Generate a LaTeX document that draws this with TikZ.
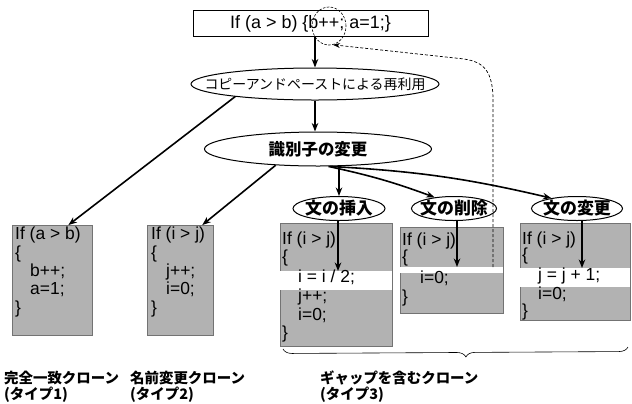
\documentclass[tikz,border=0pt]{standalone}
\usepackage{fontspec}
\setmainfont{Liberation Sans}
\newfontfamily\cjk{Noto Sans CJK JP}
\usetikzlibrary{shapes.geometric,arrows.meta,decorations.pathreplacing,calc}
\begin{document}
\begin{tikzpicture}[x=1bp,y=-1bp,
  arr/.style={-{Stealth[length=8.5bp,width=6.5bp]}, line width=1.6bp},
  oval/.style={ellipse, draw, line width=1bp, inner sep=0, fill=white},
  codebox/.style={draw=black!55, fill=black!30, line width=0.6bp, anchor=north west, inner sep=0},
  code/.style={anchor=west, inner sep=0, text height=0.72em, text depth=0.2em, font=\fontsize{17.5}{19}\selectfont},
  lab/.style={anchor=west, inner sep=0, font=\cjk\bfseries\fontsize{14.5}{16}\selectfont},
  ovtext/.style={font=\cjk\fontsize{#1}{#1}\selectfont},
  ovbold/.style={font=\cjk\bfseries\fontsize{#1}{#1}\selectfont}
]
\useasboundingbox (0,0) rectangle (632,403);

% top statement
\node[draw, line width=1bp, minimum width=235bp, minimum height=26bp, inner sep=0,
      font=\fontsize{18}{20}\selectfont] (top) at (310.5,23.5) {If (a > b) \{b++; a=1;\}};
\node[draw, dashed, dash pattern=on 2.5bp off 1.5bp, line width=0.6bp, ellipse, inner sep=0,
      minimum width=34bp, minimum height=38bp] (circ) at (329,26) {};

% ovals
\node[oval, minimum width=248bp, minimum height=32bp,
      label={[ovtext=14]center:コピーアンドペーストによる再利用}] (e1) at (315,84) {};
\node[oval, minimum width=227bp, minimum height=34bp,
      label={[ovbold=16.5]center:識別子の変更}] (e2) at (318,149) {};
\node[oval, minimum width=92bp, minimum height=24bp,
      label={[ovbold=17]center:文の挿入}] (ins) at (339,208.5) {};
\node[oval, minimum width=85bp, minimum height=24bp,
      label={[ovbold=17]center:文の削除}] (del) at (454,208.5) {};
\node[oval, minimum width=91bp, minimum height=24bp,
      label={[ovbold=17]center:文の変更}] (chg) at (577,208.5) {};

% code boxes
\node[codebox, minimum width=80bp, minimum height=110bp] (b1) at (12,225) {};
\node[codebox, minimum width=66bp, minimum height=110bp] (b2) at (147,225) {};
\node[codebox, minimum width=112bp, minimum height=123bp] (b3) at (280,223) {};
\node[codebox, minimum width=103bp, minimum height=86bp] (b4) at (400,227) {};
\node[codebox, minimum width=110bp, minimum height=97bp] (b5) at (520,223) {};

% white bands
\fill[white] (280.4,271) rectangle (391.6,290);
\fill[white] (400.4,267) rectangle (502.6,273);
\fill[white] (520.4,268) rectangle (629.6,287);

% code text
\node[code] (t1a) at (15,237) {If (a > b)};
\node[code] (t1b) at (15,256) {\{};
\node[code] (t1c) at (30,274) {b++;};
\node[code] (t1d) at (30,292) {a=1;};
\node[code] (t1e) at (15,311) {\}};

\node[code] (t2a) at (151,237) {If (i > j)};
\node[code] (t2b) at (151,256) {\{};
\node[code] (t2c) at (166,274) {j++;};
\node[code] (t2d) at (166,292) {i=0;};
\node[code] (t2e) at (151,311) {\}};

\node[code] (t3a) at (282,242) {If (i > j)};
\node[code] (t3b) at (282,260) {\{};
\node[code] (t3c) at (298,280) {i = i / 2;};
\node[code] (t3d) at (298,299) {j++;};
\node[code] (t3e) at (298,318) {i=0;};
\node[code] (t3f) at (282,336) {\}};

\node[code] (t4a) at (402,243) {If (i > j)};
\node[code] (t4b) at (402,260) {\{};
\node[code] (t4c) at (420,281) {i=0;};
\node[code] (t4d) at (402,300) {\}};

\node[code] (t5a) at (522,242) {If (i > j)};
\node[code] (t5b) at (522,258) {\{};
\node[code] (t5c) at (538,278) {j = j + 1;};
\node[code] (t5d) at (538,297) {i=0;};
\node[code] (t5e) at (522,314) {\}};

% arrows
\draw[arr] (top.south -| e1.north) -- (e1.north);
\draw[arr] (e1.south) -- (e1.south |- e2.north);
\draw[arr] (e1.189) -- ($(b1.north west)!0.7!(b1.north east)$);
\draw[arr] (e2.201) -- ($(b2.north west)!0.83!(b2.north east)$);
\draw[arr] (ins.north |- e2.south) -- (ins.north);
\draw[arr] (e2.-59) to[bend left=4] (del.150);
\draw[arr] (e2.-55) to[bend left=5] (chg.158);

\coordinate (g3) at (338,271);
\coordinate (g4) at (457,267);
\coordinate (g5) at (582,268);
\draw[arr] (g3 |- ins.south) -- (g3);
\draw[arr] (g4 |- del.south) -- (g4);
\draw[arr] (g5 |- chg.south) -- (g5);

% dashed return path
\coordinate (ds) at (493,267);
\coordinate (dk) at (493,100);
\coordinate (dm) at (455,58);
\draw[dash pattern=on 3bp off 2bp, line width=0.7bp, -{Stealth[length=7bp,width=5bp]}]
  (ds) -- (dk) .. controls (493,64) and (478,60) .. (dm) -- (circ.-78);

% brace
\coordinate (brL) at (283,349);
\coordinate (brR) at (628,347);
\draw[line width=0.6bp, decorate, decoration={brace, mirror, amplitude=9bp, aspect=0.53}] (brL) -- (brR);

% labels
\node[lab] (l1) at (4,378) {完全一致クローン};
\node[lab] (l1b) at (4,395) {(タイプ1)};
\node[lab] (l2) at (130,378) {名前変更クローン};
\node[lab] (l2b) at (130,395) {(タイプ2)};
\node[lab] (l3) at (320,378) {ギャップを含むクローン};
\node[lab] (l3b) at (320,395) {(タイプ3)};
\end{tikzpicture}
\end{document}
